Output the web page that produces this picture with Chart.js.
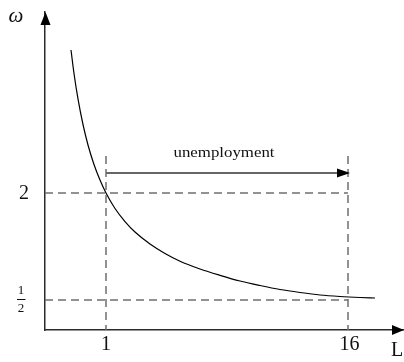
<!DOCTYPE html>
<html>
<head>
<meta charset="utf-8">
<script src="https://cdn.jsdelivr.net/npm/chart.js@4"></script>
<style>
  html, body { margin: 0; padding: 0; background: #fff; }
  #wrap { width: 404px; height: 362px; }
</style>
</head>
<body>
<div id="wrap"><canvas id="c" width="404" height="362"></canvas></div>
<script>
// Curve ω(L)
const curveL     = [-1.169, -0.983, -0.736, -0.426, -0.116, 0.256, 0.628, 1.000, 1.558, 2.178, 2.798, 3.727, 4.657, 5.587, 6.826, 8.066, 9.306, 10.545, 11.785, 13.025, 14.264, 15.504, 16.744, 17.674];
const curveOmega = [ 4.005,  3.675,  3.318,  2.960,  2.673, 2.400, 2.182, 2.000, 1.783, 1.600, 1.453, 1.285, 1.152, 1.044, 0.935, 0.846, 0.766, 0.703, 0.647, 0.605, 0.570, 0.549, 0.535, 0.528];

// Reference levels
const xTicks = [1, 16];          // L marks
const yTicks = [2, 0.5];         // ω marks
const yTickLabels = ['2', '1/2'];
const dashTopOmega = 2.52;       // top of the vertical dashed guides
const unemploymentOmega = 2.28;  // level of the "unemployment" arrow
const unemploymentFrom = 1;
const unemploymentTo = 16;
const unemploymentLabel = 'unemployment';
const xAxisLabel = 'L';
const yAxisLabel = 'ω';

const X_MIN = -2.781, X_MAX = 19.471;
const Y_MIN = 0.0794, Y_MAX = 4.537;

const curveData = curveL.map((l, i) => ({x: l, y: curveOmega[i]}));

const datasets = [];
// vertical dashed guides
xTicks.forEach(v => datasets.push({
  data: [{x: v, y: dashTopOmega}, {x: v, y: Y_MIN}],
  borderColor: '#6f6f6f', borderWidth: 1.5, borderDash: [8, 5],
  showLine: true, pointRadius: 0, tension: 0
}));
// horizontal dashed guides
yTicks.forEach(v => datasets.push({
  data: [{x: X_MIN, y: v}, {x: xTicks[1], y: v}],
  borderColor: '#6f6f6f', borderWidth: 1.5, borderDash: [8, 5],
  showLine: true, pointRadius: 0, tension: 0
}));
// unemployment arrow shaft
datasets.push({
  data: [{x: unemploymentFrom, y: unemploymentOmega}, {x: unemploymentTo, y: unemploymentOmega}],
  borderColor: '#333', borderWidth: 1.3, showLine: true, pointRadius: 0, tension: 0
});
// curve
datasets.push({
  data: curveData,
  borderColor: '#000', borderWidth: 1.2, showLine: true, pointRadius: 0,
  cubicInterpolationMode: 'monotone'
});

const SERIF = '"Liberation Serif", "DejaVu Serif", serif';

const annot = {
  id: 'annot',
  afterDraw(chart) {
    const ctx = chart.ctx;
    const xs = chart.scales.x, ys = chart.scales.y;
    const a = chart.chartArea;
    ctx.save();
    ctx.fillStyle = '#000';
    // axis arrowheads
    ctx.beginPath();
    ctx.moveTo(a.left + 0.5, a.top);
    ctx.lineTo(a.left - 4.5, a.top + 13);
    ctx.lineTo(a.left + 5.5, a.top + 13);
    ctx.closePath(); ctx.fill();
    ctx.beginPath();
    ctx.moveTo(a.right, a.bottom);
    ctx.lineTo(a.right - 12, a.bottom - 5);
    ctx.lineTo(a.right - 12, a.bottom + 5);
    ctx.closePath(); ctx.fill();
    // unemployment arrowhead
    const tx = xs.getPixelForValue(unemploymentTo) + 2;
    const ty = ys.getPixelForValue(unemploymentOmega);
    ctx.beginPath();
    ctx.moveTo(tx, ty);
    ctx.lineTo(tx - 13, ty - 4.5);
    ctx.lineTo(tx - 13, ty + 4.5);
    ctx.closePath(); ctx.fill();

    ctx.textAlign = 'center';
    ctx.textBaseline = 'middle';
    ctx.fillStyle = '#111';
    // axis names
    ctx.font = 'italic 21px ' + SERIF;
    ctx.fillText(yAxisLabel, 16, 16);
    ctx.font = '20px ' + SERIF;
    ctx.fillText(xAxisLabel, 397, 351);
    // x tick labels
    xTicks.forEach(v => ctx.fillText(String(v), xs.getPixelForValue(v) + (v >= 10 ? 1.5 : 0), 345));
    // y tick labels
    yTicks.forEach((v, i) => {
      const py = ys.getPixelForValue(v);
      const lab = yTickLabels[i];
      if (lab.includes('/')) {
        const [n, d] = lab.split('/');
        ctx.font = '13px ' + SERIF;
        ctx.fillText(n, 21, py - 9.5);
        ctx.fillText(d, 21, py + 8.5);
        ctx.fillRect(17, py - 1, 8.5, 1);
        ctx.font = '20px ' + SERIF;
      } else {
        ctx.fillText(lab, 24, py + 0.5);
      }
    });
    // arrow label, stretched to the reference width
    ctx.font = '14px ' + SERIF;
    const cx = (xs.getPixelForValue(unemploymentFrom) + xs.getPixelForValue(unemploymentTo)) / 2 - 3;
    const w = ctx.measureText(unemploymentLabel).width;
    const sx = 101 / w;
    ctx.translate(cx, 153);
    ctx.scale(sx, 1);
    ctx.fillText(unemploymentLabel, 0, 0);
    ctx.restore();
  }
};

new Chart(document.getElementById('c'), {
  type: 'scatter',
  data: { datasets },
  options: {
    responsive: false,
    animation: false,
    events: [],
    layout: { padding: { left: 45, top: 12, right: 0, bottom: 32 } },
    plugins: { legend: { display: false }, tooltip: { enabled: false } },
    scales: {
      x: {
        type: 'linear', min: X_MIN, max: X_MAX,
        grid: { display: false, drawTicks: false },
        border: { display: true, color: '#2b2b2b', width: 1.5 },
        ticks: { display: false }
      },
      y: {
        type: 'linear', min: Y_MIN, max: Y_MAX,
        grid: { display: false, drawTicks: false },
        border: { display: true, color: '#2b2b2b', width: 1.5 },
        ticks: { display: false }
      }
    }
  },
  plugins: [annot]
});
</script>
</body>
</html>
